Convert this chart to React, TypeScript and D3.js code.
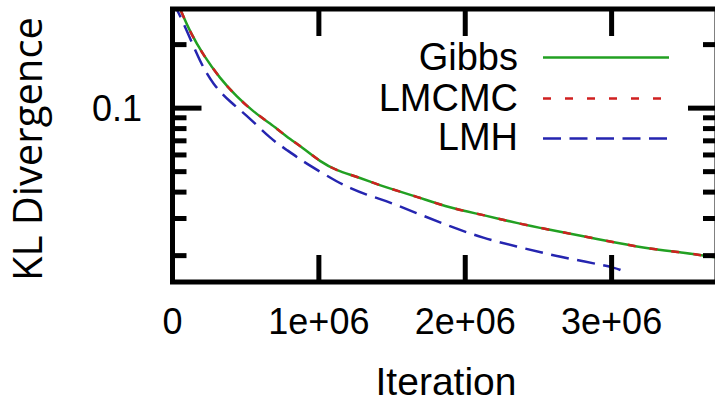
import React from "react";
import * as d3 from "d3";

// values
const iterGibbs = [0, 51200, 119600, 210400, 324500, 438600, 552000, 666100, 780200, 893600, 1007700, 1121800, 1235200, 1349300, 1440200, 1668400, 1895900, 2123400, 2351600, 2579100, 2806600, 3034800, 3262300, 3489800, 3720000];
const klGibbs = [0.36, 0.296, 0.2297, 0.1782, 0.1383, 0.1132, 0.0962, 0.0848, 0.0732, 0.0646, 0.0558, 0.0506, 0.0479, 0.0449, 0.0425, 0.0381, 0.0336, 0.0312, 0.0285, 0.0265, 0.0247, 0.023, 0.0215, 0.0207, 0.0196];
const iterLMCMC = [0, 51200, 119600, 210400, 324500, 438600, 552000, 666100, 780200, 893600, 1007700, 1121800, 1235200, 1349300, 1440200, 1668400, 1895900, 2123400, 2351600, 2579100, 2806600, 3034800, 3262300, 3489800, 3720000];
const klLMCMC = [0.36, 0.296, 0.2297, 0.1782, 0.1383, 0.1132, 0.0962, 0.0848, 0.0732, 0.0646, 0.0558, 0.0506, 0.0479, 0.0449, 0.0425, 0.0381, 0.0336, 0.0312, 0.0285, 0.0265, 0.0247, 0.023, 0.0215, 0.0207, 0.0196];
const iterLMH = [0, 39600, 97000, 187900, 278700, 392800, 529500, 666100, 780200, 893600, 1007700, 1121800, 1212700, 1326800, 1440200, 1668400, 1895900, 2123400, 2351600, 2579100, 2806600, 3034800, 3077800];
const klLMH = [0.32, 0.2855, 0.234, 0.1657, 0.1286, 0.1072, 0.0895, 0.072, 0.0634, 0.0558, 0.05, 0.0449, 0.0418, 0.0388, 0.0368, 0.0318, 0.0275, 0.0242, 0.0221, 0.0202, 0.0188, 0.0175, 0.01686];

const xTicks = [0, 1000000, 2000000, 3000000];
const xTickLabels = ["0", "1e+06", "2e+06", "3e+06"];
const yMajor = [0.1];
const yMajorLabels = ["0.1"];
const yMinor = [0.02, 0.03, 0.04, 0.05, 0.06, 0.07, 0.08, 0.09, 0.2];

const series = [
  { name: "Gibbs", xs: iterGibbs, ys: klGibbs, color: "#22a022", dash: "none" },
  { name: "LMCMC", xs: iterLMCMC, ys: klLMCMC, color: "#d02020", dash: "8 14" },
  { name: "LMH", xs: iterLMH, ys: klLMH, color: "#2525b0", dash: "18 8.5" },
];

const W = 715;
const H = 403;
const left = 172.5;
const right = 717;
const top = 9;
const bottom = 282;

const App = () => {
  const x = d3.scaleLinear().domain([0, 3720000]).range([left, right]);
  const y = d3.scaleLog().domain([0.015, 0.295]).range([bottom, top]);

  // basis curve smooths out reading noise
  const line = d3
    .line<[number, number]>()
    .x((d) => x(d[0]))
    .y((d) => y(d[1]))
    .curve(d3.curveBasis);

  const tickFont = "'Liberation Sans', Arial, sans-serif";
  const legendY = [57.5, 98.5, 138.5];
  const legendBase = [70, 111, 150];

  return (
    <svg width={W} height={H} style={{ position: "absolute", left: 0, top: 0, background: "#fff" }}>
      <defs>
        <clipPath id="plot">
          <rect x={left} y={top} width={right - left} height={bottom - top} />
        </clipPath>
      </defs>

      <g clipPath="url(#plot)">
        {series.map((s) => (
          <path
            key={s.name}
            d={line(s.xs.map((v, i) => [v, s.ys[i]] as [number, number])) || ""}
            fill="none"
            stroke={s.color}
            strokeWidth={2.5}
            strokeDasharray={s.dash}
          />
        ))}
      </g>

      {/* ticks */}
      <g stroke="#000" strokeWidth={5}>
        {xTicks.map((t) => (
          <g key={t}>
            <line x1={x(t)} x2={x(t)} y1={bottom} y2={bottom - 27} />
            <line x1={x(t)} x2={x(t)} y1={top} y2={top + 27} />
          </g>
        ))}
        {yMajor.map((t) => (
          <g key={t}>
            <line x1={left} x2={left + 29} y1={y(t)} y2={y(t)} />
            <line x1={right} x2={right - 29} y1={y(t)} y2={y(t)} />
          </g>
        ))}
        {yMinor.map((t) => (
          <g key={t}>
            <line x1={left} x2={left + 14} y1={y(t)} y2={y(t)} />
            <line x1={right} x2={right - 14} y1={y(t)} y2={y(t)} />
          </g>
        ))}
        <rect x={left} y={top} width={right - left} height={bottom - top} fill="none" />
      </g>

      {/* tick labels */}
      <g fontFamily={tickFont} fontSize={36} fill="#000">
        {xTicks.map((t, i) => (
          <text key={t} x={x(t)} y={334} textAnchor="middle">
            {xTickLabels[i]}
          </text>
        ))}
        {yMajor.map((t, i) => (
          <text key={t} x={142} y={y(t) + 13} textAnchor="end">
            {yMajorLabels[i]}
          </text>
        ))}
      </g>

      {/* legend */}
      <g fontFamily={tickFont} fontSize={38} fill="#000">
        {series.map((s, i) => (
          <g key={s.name}>
            <text x={518} y={legendBase[i]} textAnchor="end">
              {s.name}
            </text>
            <line x1={543} x2={669} y1={legendY[i]} y2={legendY[i]} stroke={s.color} strokeWidth={2.5} strokeDasharray={s.dash} />
          </g>
        ))}
      </g>

      <text x={446} y={395} textAnchor="middle" fontFamily={tickFont} fontSize={39} fill="#000">
        Iteration
      </text>
      <text
        transform="translate(42,149) rotate(-90)"
        textAnchor="middle"
        fontFamily="'Open Sans', sans-serif"
        fontSize={40}
        fill="#000"
      >
        KL Divergence
      </text>
    </svg>
  );
};

export default App;
